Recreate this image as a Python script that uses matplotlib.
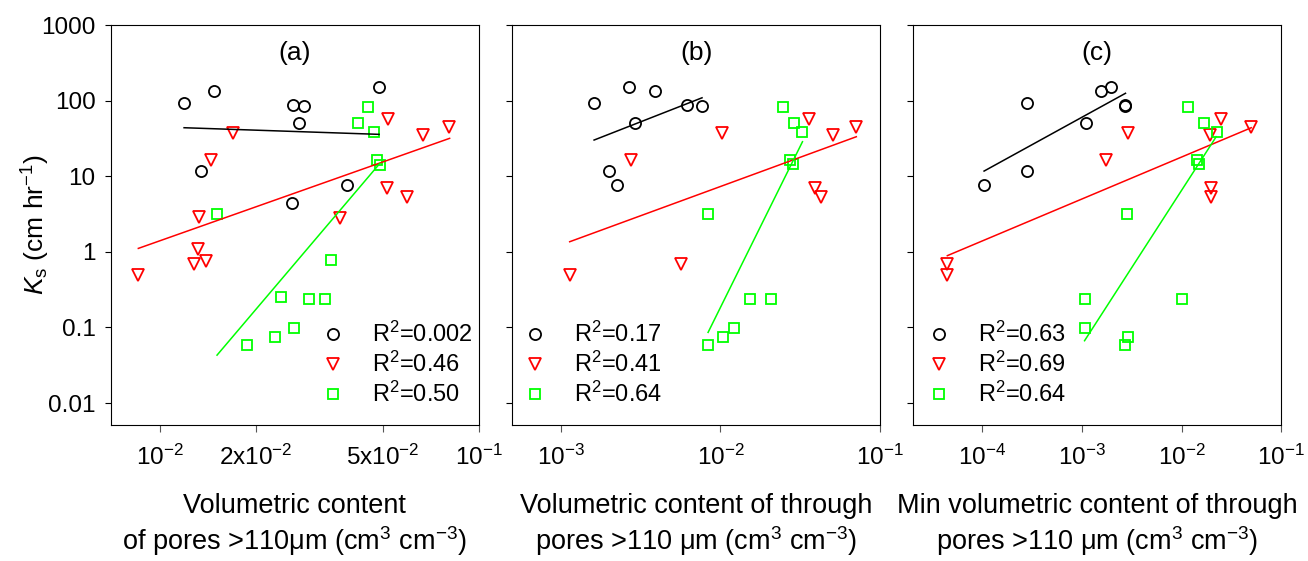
import numpy as np
import matplotlib
matplotlib.use("Agg")
import matplotlib.pyplot as plt

plt.rcParams['font.family'] = 'Liberation Sans'
plt.rcParams['mathtext.fontset'] = 'custom'
plt.rcParams['mathtext.rm'] = 'Liberation Sans'
plt.rcParams['mathtext.it'] = 'Liberation Sans:italic'
plt.rcParams['mathtext.default'] = 'regular'

# ---- panel (a): volumetric content of pores >110 um ----
a_black_x = [0.0119, 0.0148, 0.0262, 0.0284, 0.0273, 0.0487, 0.0134, 0.0385, 0.0259]
a_black_y = [92, 135, 87.5, 86, 51, 150, 11.8, 7.65, 4.42]
a_red_x = [0.0170, 0.0145, 0.0520, 0.0667, 0.0807, 0.0515, 0.0596, 0.0133, 0.0366,
           0.0132, 0.0128, 0.0139, 0.00855]
a_red_y = [36.9, 16.4, 56.5, 35, 44.3, 6.9, 5.37, 2.92, 2.77, 1.08, 0.68, 0.755, 0.49]
a_green_x = [0.0451, 0.0417, 0.0471, 0.0481, 0.0490, 0.0151, 0.0343, 0.0240, 0.0294,
             0.0330, 0.0264, 0.0229, 0.0187]
a_green_y = [83, 51, 38, 16.2, 14.1, 3.19, 0.77, 0.252, 0.238, 0.238, 0.099, 0.074, 0.058]
a_fit_black = ([0.0119, 0.0487], [43.8, 35.8])
a_fit_red = ([0.00855, 0.0811], [1.11, 31.7])
a_fit_green = ([0.0151, 0.0490], [0.043, 14.8])
a_r2 = ["0.002", "0.46", "0.50"]

# ---- panel (b): volumetric content of through pores ----
b_black_x = [0.00162, 0.00267, 0.0039, 0.00618, 0.00767, 0.0029, 0.00201, 0.00226]
b_black_y = [92, 150, 135, 87.5, 86, 51, 11.8, 7.65]
b_red_x = [0.0102, 0.00275, 0.036, 0.0506, 0.0708, 0.0388, 0.0428, 0.00565, 0.00114]
b_red_y = [36.9, 16.4, 56.5, 35, 44.3, 6.9, 5.37, 0.68, 0.49]
b_green_x = [0.0248, 0.0287, 0.0324, 0.0272, 0.0284, 0.0084, 0.01524, 0.0208, 0.0121,
             0.0104, 0.00837]
b_green_y = [83, 51, 38, 16.2, 14.4, 3.19, 0.238, 0.238, 0.099, 0.074, 0.058]
b_fit_black = ([0.00162, 0.00767], [30.1, 109])
b_fit_red = ([0.00114, 0.0708], [1.36, 33.3])
b_fit_green = ([0.00837, 0.0326], [0.086, 28.6])
b_r2 = ["0.17", "0.41", "0.64"]

# ---- panel (c): min volumetric content of through pores ----
c_black_x = [0.000279, 0.00156, 0.00196, 0.00267, 0.00272, 0.0011, 0.000279, 0.000104]
c_black_y = [92, 135, 150, 87.5, 86, 51, 11.8, 7.65]
c_red_x = [0.00288, 0.00173, 0.0249, 0.0193, 0.0499, 0.0196, 0.0196, 0.0000445, 0.0000445]
c_red_y = [36.9, 16.4, 56.5, 35, 44.3, 6.9, 5.37, 0.68, 0.49]
c_green_x = [0.01153, 0.0167, 0.0227, 0.0141, 0.0150, 0.00282, 0.00106, 0.0100, 0.00106,
             0.0029, 0.00267]
c_green_y = [83, 51, 38, 16.2, 14.4, 3.19, 0.238, 0.238, 0.099, 0.074, 0.058]
c_fit_black = ([0.000104, 0.00273], [11.7, 125])
c_fit_red = ([0.0000445, 0.0499], [0.89, 43.8])
c_fit_green = ([0.00106, 0.0222], [0.0667, 33.3])
c_r2 = ["0.63", "0.69", "0.64"]

panel_names = ["(a)", "(b)", "(c)"]
x_ticks = [[0.01, 0.02, 0.05, 0.1], [0.001, 0.01, 0.1], [0.0001, 0.001, 0.01, 0.1]]
x_ticklabels = [[r"$10^{-2}$", r"$2x10^{-2}$", r"$5x10^{-2}$", r"$10^{-1}$"],
                [r"$10^{-3}$", r"$10^{-2}$", r"$10^{-1}$"],
                [r"$10^{-4}$", r"$10^{-3}$", r"$10^{-2}$", r"$10^{-1}$"]]
x_limits = [(0.0070, 0.1), (0.000499, 0.1), (0.0000203, 0.1)]
x_labels = ["Volumetric content\nof pores >110μm (cm$^3$ cm$^{-3}$)",
            "Volumetric content of through\npores >110 μm (cm$^3$ cm$^{-3}$)",
            "Min volumetric content of through\npores >110 μm (cm$^3$ cm$^{-3}$)"]
y_ticks = [0.01, 0.1, 1, 10, 100, 1000]
y_ticklabels = ["0.01", "0.1", "1", "10", "100", "1000"]

panels = [
    (a_black_x, a_black_y, a_red_x, a_red_y, a_green_x, a_green_y,
     a_fit_black, a_fit_red, a_fit_green, a_r2),
    (b_black_x, b_black_y, b_red_x, b_red_y, b_green_x, b_green_y,
     b_fit_black, b_fit_red, b_fit_green, b_r2),
    (c_black_x, c_black_y, c_red_x, c_red_y, c_green_x, c_green_y,
     c_fit_black, c_fit_red, c_fit_green, c_r2),
]

GREEN = "#00ff00"
RED = "#ff0000"

fig = plt.figure(figsize=(13.08, 5.61), dpi=100)
lefts = [0.0846, 0.3917, 0.6983]
legend_x = [0.572, 0.029, 0.037]

for i, p in enumerate(panels):
    bx, by, rx, ry, gx, gy, fb, fr, fg, r2 = p
    ax = fig.add_axes([lefts[i], 0.2424, 0.2813, 0.713])
    ax.set_xscale("log")
    ax.set_yscale("log")

    h1, = ax.plot(bx, by, "o", mfc="none", mec="black", ms=8, mew=1.3, ls="none")
    h2, = ax.plot(rx, ry, "v", mfc="none", mec=RED, ms=8, mew=1.3, ls="none")
    h3, = ax.plot(gx, gy, "s", mfc="none", mec=GREEN, ms=7, mew=1.3, ls="none")
    ax.plot(fb[0], fb[1], color="black", lw=1.1)
    ax.plot(fr[0], fr[1], color=RED, lw=1.1)
    ax.plot(fg[0], fg[1], color=GREEN, lw=1.1)

    ax.set_xlim(*x_limits[i])
    ax.set_ylim(0.00512, 1000)
    ax.set_xticks(x_ticks[i])
    ax.set_xticklabels(x_ticklabels[i])
    ax.xaxis.set_minor_locator(plt.NullLocator())
    ax.set_yticks(y_ticks)
    ax.yaxis.set_minor_locator(plt.NullLocator())
    if i == 0:
        ax.set_yticklabels(y_ticklabels)
        ax.set_ylabel(r"$\mathit{K}_\mathrm{s}$ (cm hr$^{-1}$)", fontsize=19, labelpad=-8)
    else:
        ax.set_yticklabels([])
    ax.tick_params(axis="x", direction="out", length=5, width=0.8, pad=9,
                   labelsize=17.5, color="#555555")
    ax.tick_params(axis="y", direction="out", length=4, width=0.8, pad=7,
                   labelsize=17.5)
    for s in ax.spines.values():
        s.set_linewidth(0.8)

    ax.set_xlabel(x_labels[i], fontsize=19.5, labelpad=17, linespacing=1.2)
    ax.text(0.5, 0.93, panel_names[i], transform=ax.transAxes, ha="center",
            va="center", fontsize=19)

    ax.legend([h1, h2, h3], ["R$^2$=" + v for v in r2], loc="lower left",
              bbox_to_anchor=(legend_x[i], 0.045), frameon=False, fontsize=17,
              handlelength=1.0, handletextpad=1.15, labelspacing=0.2,
              borderpad=0, borderaxespad=0, numpoints=1)

plt.savefig("out.png", dpi=100)
